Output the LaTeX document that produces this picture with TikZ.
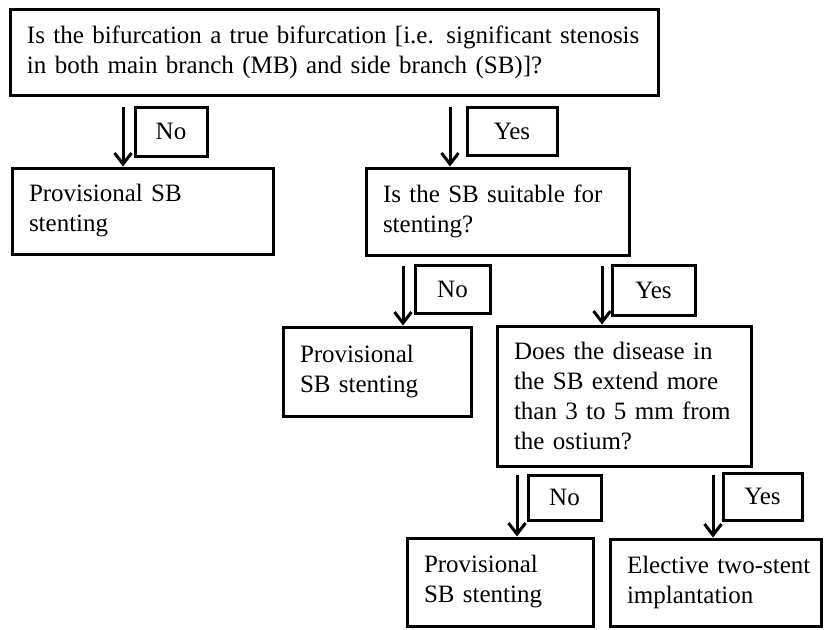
\documentclass[tikz,border=0pt]{standalone}
\usepackage{fontspec}
\setmainfont{Liberation Serif}
\usetikzlibrary{arrows.meta}
\begin{document}
\begin{tikzpicture}[x=1pt,y=-1pt,
  box/.style={draw, line width=3pt, align=left, inner xsep=0pt, inner ysep=0pt,
    font=\fontsize{25}{30}\selectfont},
  lbl/.style={draw, line width=3pt, align=center, inner sep=0pt,
    font=\fontsize{25}{30}\selectfont},
  arr/.style={line width=3pt, -{Straight Barb[length=11pt,width=17pt,line width=3pt]}}
]
\useasboundingbox (0,0) rectangle (824,629);
\newcommand{\bx}[6]{% name, x1,y1,x2,y2, text
  \node[box, minimum width={#4-#2}, minimum height={#5-#3}, text width={#4-#2-34}]
    (#1) at ({(#2+#4)/2},{(#3+#5)/2}) {#6};}
\newcommand{\lb}[6]{%
  \node[lbl, minimum width={#4-#2}, minimum height={#5-#3}]
    (#1) at ({(#2+#4)/2},{(#3+#5)/2}) {#6};}
\bx{top}{10}{9}{658}{95}{\mbox{Is the bifurcation a true bifurcation [i.e. significant stenosis}\\\mbox{in both main branch (MB) and side branch (SB)]?}}
\bx{prova}{12}{168}{273}{254}{\mbox{Provisional SB}\\\mbox{stenting}}
\bx{suit}{366}{168}{629}{255}{\mbox{Is the SB suitable for}\\\mbox{stenting?}}
\bx{provb}{283}{327}{471}{416}{\mbox{Provisional}\\\mbox{SB stenting}}
\bx{dis}{497}{326}{751}{466}{\mbox{Does the disease in}\\\mbox{the SB extend more}\\\mbox{than 3 to 5 mm from}\\\mbox{the ostium?}}
\bx{provc}{407}{538}{593}{626}{\mbox{Provisional}\\\mbox{SB stenting}}
\bx{elec}{610}{539}{821}{626}{\mbox{Elective two-stent}\\\mbox{implantation}}
\lb{noa}{135}{107}{207}{156}{No}
\lb{yesa}{467}{107}{557}{155}{Yes}
\lb{nob}{415}{265}{490}{313}{No}
\lb{yesb}{612}{265}{695}{315}{Yes}
\lb{noc}{528}{475}{601}{520}{No}
\lb{yesc}{723}{473}{802}{520}{Yes}
\coordinate (sa) at (123,107);
\coordinate (sb) at (450,107);
\coordinate (sc) at (403,266);
\coordinate (sd) at (602,266);
\coordinate (se) at (517,475);
\coordinate (sf) at (713,475);
\draw[arr] (sa) -- (sa |- prova.north);
\draw[arr] (sb) -- (sb |- suit.north);
\draw[arr] (sc) -- (sc |- provb.north);
\draw[arr] (sd) -- (sd |- dis.north);
\draw[arr] (se) -- (se |- provc.north);
\draw[arr] (sf) -- (sf |- elec.north);
\end{tikzpicture}
\end{document}
